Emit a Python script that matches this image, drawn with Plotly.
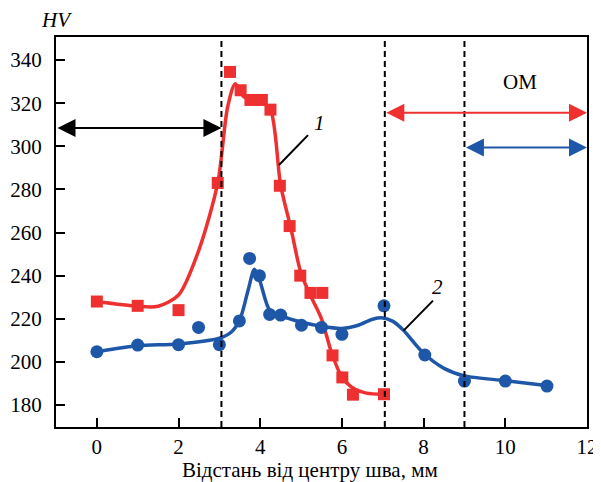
import plotly.graph_objects as go

# ---- measured data (sample 1 = red squares, sample 2 = blue circles)
x1 = [0, 1, 2, 2.96, 3.26, 3.52, 3.76, 4.04, 4.25, 4.48, 4.72, 4.98, 5.23, 5.52, 5.77, 6.01, 6.27, 7.03]
y1 = [228, 226, 224, 283, 334.5, 326, 321.5, 321.5, 317, 281.7, 263, 240, 232, 232, 203, 192.8, 184.8, 185]

x2 = [0, 1, 2, 2.49, 3.0, 3.49, 3.74, 3.98, 4.23, 4.5, 5.01, 5.5, 6.0, 7.03, 8.03, 9.0, 10.0, 11.02]
y2 = [204.7, 207.8, 208, 216, 208, 219, 248, 240, 222, 221.7, 217, 216, 212.8, 226, 203.2, 191.1, 191.1, 188.8]

# ---- smoothed fit curves
fit1_x = [0, 1, 1.5, 2, 2.5, 2.96, 3.2, 3.39, 3.6, 4.0, 4.25, 4.5, 4.75, 5.0, 5.25, 5.5, 5.75, 6.0, 6.3, 6.6, 7.0]
fit1_y = [228, 225.8, 225.8, 231, 252, 283, 318, 329, 323, 321, 317, 282, 262, 241, 230, 220, 204, 193, 187.5, 185.5, 185]

fit2_x = [0, 1, 2, 3, 3.3, 3.5, 3.7, 3.86, 4.0, 4.23, 4.5, 5.0, 5.5, 6.0, 6.4, 6.75, 7.0, 7.25, 7.5, 8.0, 8.5, 9.0, 10.0, 11.0]
fit2_y = [204.7, 207.5, 208.3, 211, 214, 219.5, 233, 243, 237, 224, 221.5, 218.5, 216.5, 215.5, 217, 219.8, 220.4, 218.8, 214.8, 204, 197, 193.5, 191.3, 189]

# ---- zone boundaries and arrows
zone_x = [3.05, 7.05, 9.0]
arrow_black = (-1, 3.05, 308.5)
arrow_red = (7.05, 12, 315.6)
arrow_blue = (9.0, 12, 299.5)

x_ticks = [0, 2, 4, 6, 8, 10, 12]
y_ticks = [180, 200, 220, 240, 260, 280, 300, 320, 340]

RED = "#EE3030"
BLUE = "#1F57A8"
FONT = "Liberation Serif"
FS = 21

fig = go.Figure()
fig.add_trace(go.Scatter(x=fit1_x, y=fit1_y, mode="lines",
                         line=dict(color=RED, width=3.5, shape="spline", smoothing=0.8),
                         hoverinfo="skip", showlegend=False))
fig.add_trace(go.Scatter(x=fit2_x, y=fit2_y, mode="lines",
                         line=dict(color=BLUE, width=3.5, shape="spline", smoothing=0.8),
                         hoverinfo="skip", showlegend=False))
fig.add_trace(go.Scatter(x=x1, y=y1, mode="markers",
                         marker=dict(symbol="square", size=12, color=RED),
                         showlegend=False))
fig.add_trace(go.Scatter(x=x2, y=y2, mode="markers",
                         marker=dict(symbol="circle", size=13, color=BLUE),
                         showlegend=False))

shapes = []
for zx in zone_x:
    shapes.append(dict(type="line", xref="x", yref="paper", x0=zx, x1=zx, y0=0, y1=1,
                       line=dict(color="black", width=2, dash="6px,4px")))
# leader lines for labels
shapes.append(dict(type="line", xref="x", yref="y", x0=5.17, y0=305.2, x1=4.46, y1=291.3,
                   line=dict(color="black", width=2)))
shapes.append(dict(type="line", xref="x", yref="y", x0=8.23, y0=228.4, x1=7.51, y1=214.5,
                   line=dict(color="black", width=2)))

annotations = []
for (xa, xb, yy), col in [(arrow_black, "black"), (arrow_red, RED), (arrow_blue, BLUE)]:
    annotations.append(dict(x=xb, y=yy, ax=xa, ay=yy, xref="x", yref="y", axref="x", ayref="y",
                            text="", showarrow=True, arrowside="end+start", arrowhead=2,
                            arrowsize=1.8, arrowwidth=2, arrowcolor=col,
                            standoff=0, startstandoff=0))

# page body has an 8px margin; figure is sized/offset to compensate
W, H = 593, 474
ML, MR, MT, MB = 48, 14, 29, 55
plot_h = H - MT - MB
plot_w = W - ML - MR

annotations += [
    dict(x=10.36, y=330, xref="x", yref="y", text="OM", showarrow=False,
         font=dict(family=FONT, size=FS, color="black")),
    dict(x=5.45, y=310.6, xref="x", yref="y", text="<i>1</i>", showarrow=False,
         font=dict(family=FONT, size=FS, color="black")),
    dict(x=8.35, y=234.9, xref="x", yref="y", text="<i>2</i>", showarrow=False,
         font=dict(family=FONT, size=FS, color="black")),
    dict(x=0, y=1 + 17 / plot_h, xref="paper", yref="paper", text="<i>HV</i>", showarrow=False,
         xanchor="center", yanchor="middle", font=dict(family=FONT, size=FS, color="black")),
    dict(x=(310 - 56) / plot_w, y=-43 / plot_h, xref="paper", yref="paper",
         text="Відстань від центру шва, мм", showarrow=False,
         xanchor="center", yanchor="middle", font=dict(family=FONT, size=FS, color="black")),
]

fig.update_layout(
    width=W, height=H,
    margin=dict(l=ML, r=MR, t=MT, b=MB, autoexpand=False),
    paper_bgcolor="white", plot_bgcolor="white",
    font=dict(family=FONT, size=FS, color="black"),
    shapes=shapes, annotations=annotations,
    xaxis=dict(range=[-1, 12], tickvals=x_ticks, ticks="inside", ticklen=9, tickwidth=2,
               tickcolor="black", showline=True, linecolor="black", linewidth=2, mirror=True,
               showgrid=False, zeroline=False, tickfont=dict(family=FONT, size=FS)),
    yaxis=dict(range=[169.8, 350.7], tickvals=y_ticks, ticks="inside", ticklen=9, tickwidth=2,
               tickcolor="black", showline=True, linecolor="black", linewidth=2, mirror=True,
               showgrid=False, zeroline=False, tickfont=dict(family=FONT, size=FS),
               ticklabelstandoff=8),
)

fig.write_html("out.html")
